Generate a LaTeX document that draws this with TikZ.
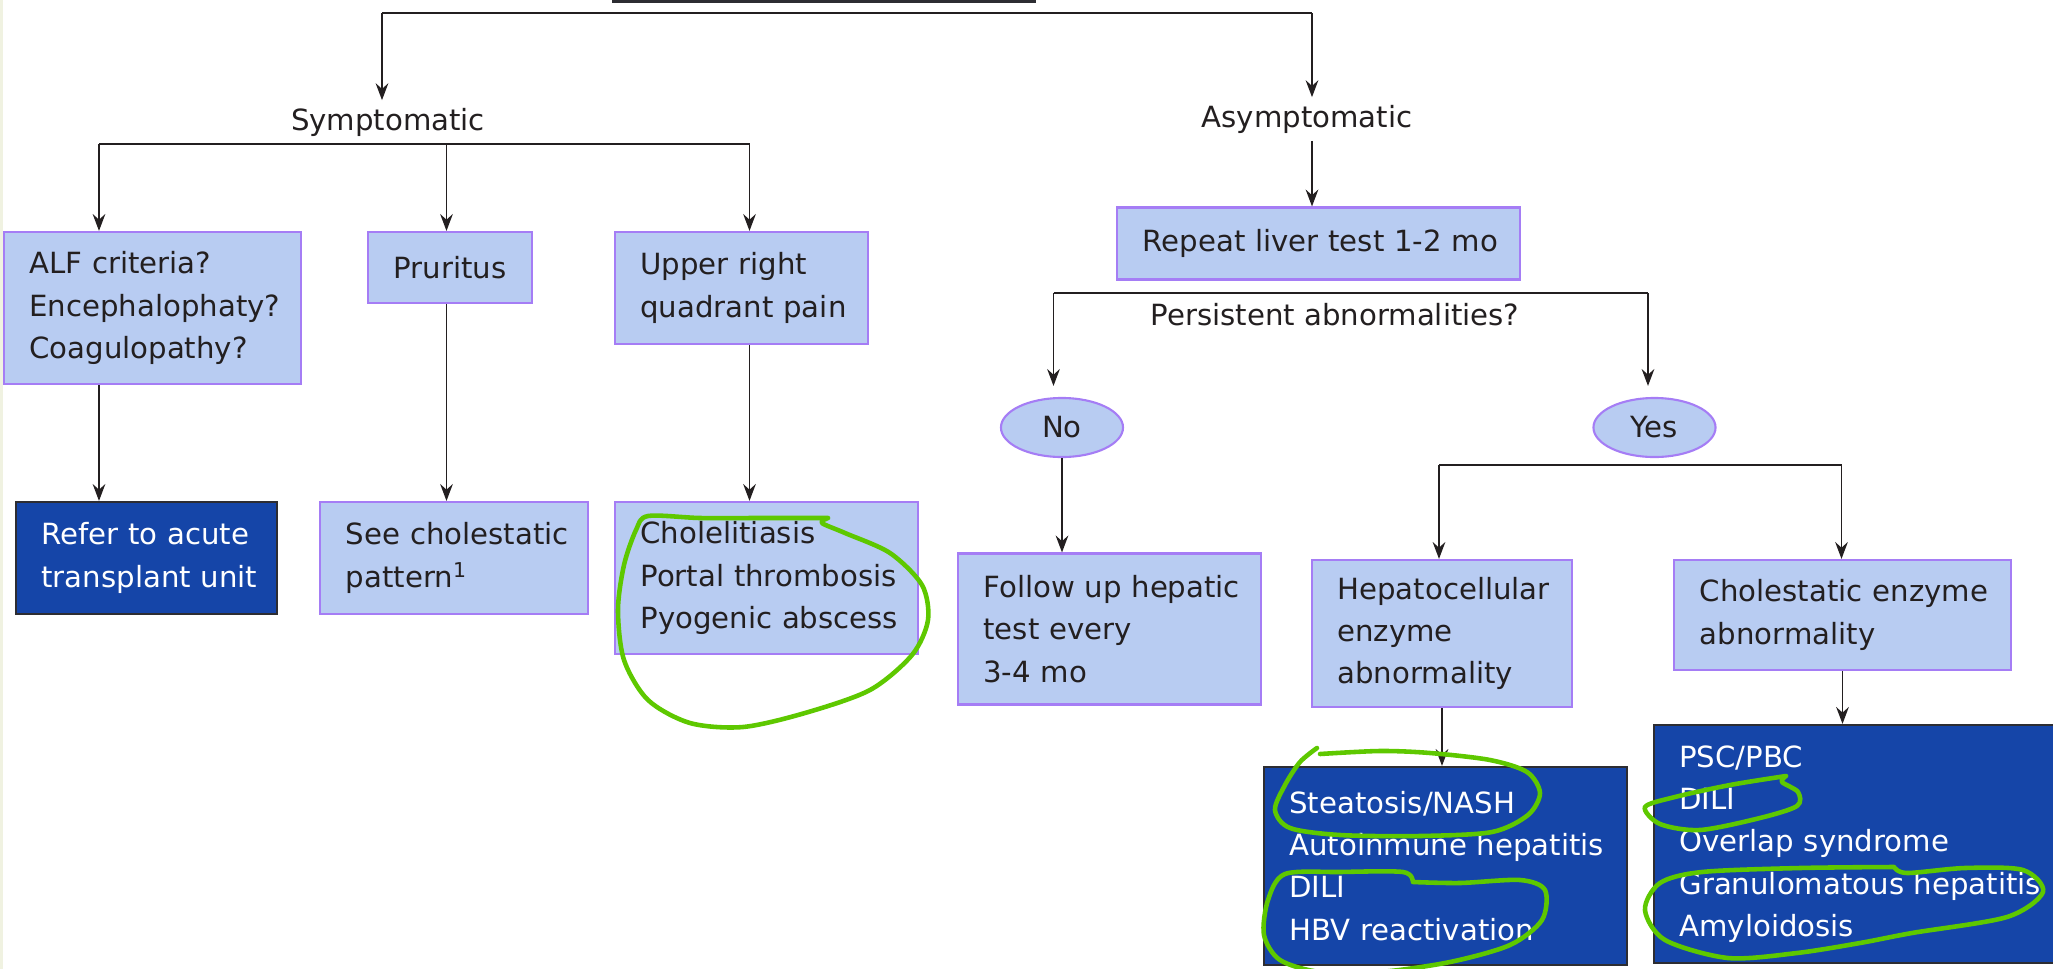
\documentclass[tikz,border=0pt]{standalone}
\usepackage{fontspec}
\setmainfont{DejaVu Sans}
\usetikzlibrary{arrows.meta,shapes.geometric}

\definecolor{boxfill}{RGB}{184,204,242}
\definecolor{boxline}{RGB}{165,125,245}
\definecolor{darkfill}{RGB}{21,69,168}
\definecolor{darkline}{RGB}{45,45,50}
\definecolor{inkline}{RGB}{35,31,32}
\definecolor{hlgreen}{RGB}{94,200,0}
\definecolor{edgestrip}{RGB}{240,242,225}

\tikzset{
  bluebox/.style={rectangle, draw=boxline, line width=0.6pt, fill=boxfill, text=inkline,
    inner xsep=0pt, align=left, execute at begin node={\leftskip=0.255cm}},
  darkbox/.style={bluebox, draw=darkline, fill=darkfill, text=white},
  oval/.style={ellipse, draw=boxline, line width=0.6pt, fill=boxfill, text=inkline,
    minimum width=1.22cm, minimum height=0.59cm, inner sep=0pt},
  lbl/.style={text=inkline, inner sep=2pt},
  link/.style={draw=inkline, line width=0.5pt},
  arr/.style={link, -{Stealth[length=4.8pt,width=3.6pt,inset=1.6pt]}},
  scribble/.style={draw=hlgreen, line width=1.3pt, line cap=round, line join=round},
}

\begin{document}
\begin{tikzpicture}[x=0.01cm, y=-0.01cm, font=\fontsize{8.3}{12}\selectfont]
\useasboundingbox (0,0) rectangle (2053,969);
\fill[edgestrip] (0,0) rectangle (3,969);
\draw[darkline, line width=0.7pt] (612,1.5) -- (1036,1.5); % box above, cut off

%% symptomatic side
\node[lbl] (symp) at (388,122) {Symptomatic};
\node[bluebox, text width=2.97cm, minimum height=1.52cm] (alf) at (152.5,308) {ALF criteria?\\Encephalophaty?\\Coagulopathy?};
\node[bluebox, text width=1.64cm, minimum height=0.71cm] (prur) at (450,267.5) {Pruritus};
\node[bluebox, text width=2.53cm, minimum height=1.12cm] (ruq) at (741.5,288) {Upper right\\quadrant pain};
\node[darkbox, text width=2.61cm, minimum height=1.12cm] (refer) at (146.5,558) {Refer to acute\\transplant unit};
\node[bluebox, text width=2.67cm, minimum height=1.12cm] (seechol) at (454,558) {See cholestatic\\pattern\textsuperscript{1}};
\node[bluebox, text width=3.03cm, minimum height=1.52cm] (chole) at (766.5,578) {Cholelitiasis\\Portal thrombosis\\Pyogenic abscess};

%% asymptomatic side
\node[lbl] (asym) at (1307,119) {Asymptomatic};
\node[bluebox, text width=4.02cm, minimum height=0.72cm] (repeat) at (1318.5,243.5) {Repeat liver test 1-2 mo};
\node[lbl] (persist) at (1335,315) {Persistent abnormalities?};
\node[oval] (no) at (1062,427.5) {No};
\node[oval] (yes) at (1654.5,427.5) {Yes};
\node[bluebox, text width=3.03cm, minimum height=1.51cm] (follow) at (1109.5,629) {Follow up hepatic\\test every\\3-4 mo};
\node[bluebox, text width=2.60cm, minimum height=1.47cm] (hepa) at (1442,633.5) {Hepatocellular\\enzyme\\abnormality};
\node[bluebox, text width=3.36cm, minimum height=1.10cm] (cholenz) at (1842.5,615) {Cholestatic enzyme\\abnormality};
\node[darkbox, text width=3.63cm, minimum height=1.98cm] (hepadx) at (1445.5,866) {Steatosis/NASH\\Autoinmune hepatitis\\DILI\\HBV reactivation};
\node[darkbox, text width=4.26cm, minimum height=2.38cm] (choldx) at (1867,844) {PSC/PBC\\DILI\\Overlap syndrome\\Granulomatous hepatitis\\Amyloidosis};

%% branch points
\coordinate (tbl) at (382,13);
\coordinate (tbr) at (1312,13);
\coordinate (sbl) at (99,144);
\coordinate (sbm) at (446.5,144);
\coordinate (sbr) at (749.5,144);
\coordinate (pbl) at (1053.5,293);
\coordinate (pbr) at (1648,293);
\coordinate (ybl) at (1439,465);
\coordinate (ybr) at (1841.5,465);

\draw[link] (tbl) -- (tbr);
\draw[arr] (tbl) -- (tbl |- symp.north);
\draw[arr] (tbr) -- (tbr |- asym.north);

\draw[link] (sbl) -- (sbr);
\draw[arr] (sbl) -- (sbl |- alf.north);
\draw[arr] (sbm) -- (sbm |- prur.north);
\draw[arr] (sbr) -- (sbr |- ruq.north);
\draw[arr] (alf.south -| sbl) -- (refer.north -| sbl);
\draw[arr] (prur.south -| sbm) -- (seechol.north -| sbm);
\draw[arr] (ruq.south -| sbr) -- (chole.north -| sbr);

\draw[arr] (asym.south -| tbr) -- (repeat.north -| tbr);
\draw[link] (pbl) -- (pbr);
\draw[arr, shorten >=0.11cm] (pbl) -- (pbl |- no.north);
\draw[arr, shorten >=0.11cm] (pbr) -- (pbr |- yes.north);
\draw[arr] (no.south) -- (no.south |- follow.north);

\draw[link] (ybl) -- (ybr);
\draw[arr] (ybl) -- (ybl |- hepa.north);
\draw[arr] (ybr) -- (ybr |- cholenz.north);
\draw[arr] (hepa.south) -- (hepa.south |- hepadx.north);
\draw[arr] (cholenz.south) -- (cholenz.south |- choldx.north);

%% green pen marks
\draw[scribble] plot[smooth] coordinates {(828,518) (822,523) (845,533) (890,553) (922,585) (928,620) (912,655) (870,690) (805,713) (743,727) (690,723) (648,700) (624,660) (618,610) (624,565) (636,530) (648,516) (700,518) (760,518) (828,518)};
\draw[scribble] plot[smooth] coordinates {(1317,748) (1300,762) (1285,785) (1275,810) (1290,828) (1340,835) (1420,836) (1492,832) (1528,815) (1540,793) (1527,772) (1490,760) (1430,753) (1380,751) (1320,754)};
\draw[scribble] plot[smooth] coordinates {(1413,882) (1403,872) (1340,872) (1285,874) (1268,900) (1264,935) (1280,960) (1320,972) (1380,972) (1450,962) (1510,945) (1542,920) (1545,890) (1520,880) (1460,883) (1413,882)};
\draw[scribble] plot[smooth] coordinates {(1786,776) (1782,782) (1798,792) (1797,806) (1760,818) (1700,830) (1660,824) (1645,807) (1675,797) (1730,785) (1786,776)};
\draw[scribble] plot[smooth] coordinates {(1894,867) (1800,868) (1702,872) (1660,883) (1645,910) (1665,940) (1728,958) (1797,953) (1860,943) (1912,933) (2007,917) (2043,892) (2023,870) (1965,868) (1907,873) (1894,867)};
\end{tikzpicture}
\end{document}
